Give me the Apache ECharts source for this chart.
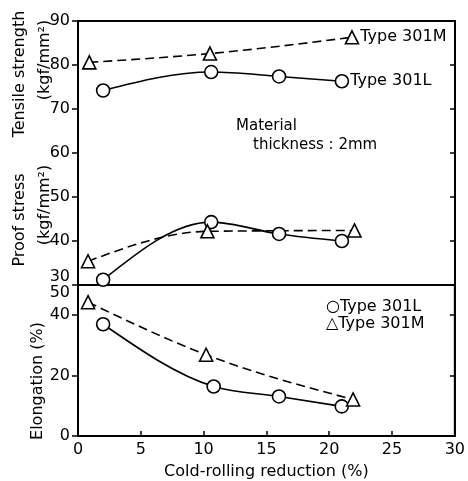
<!DOCTYPE html>
<html><head><meta charset="utf-8">
<script src="https://cdn.jsdelivr.net/npm/echarts@6/dist/echarts.min.js"></script>
<style>html,body{margin:0;padding:0;background:#fff}#c{width:468px;height:481px}</style>
</head><body><div id="c"></div>
<script>
// Data
const xTicks = [0, 5, 10, 15, 20, 25, 30];
const tensileL_x = [2.0, 10.6, 16.0, 21.0];
const tensileL_y = [74.2, 78.4, 77.4, 76.3];
const tensileM_x = [0.9, 10.5, 21.8];
const tensileM_y = [80.6, 82.6, 86.3];
const proofL_x = [2.0, 10.6, 16.0, 21.0];
const proofL_y = [31.2, 44.3, 41.6, 40.0];
const proofM_x = [0.8, 10.3, 22.0];
const proofM_y = [35.4, 42.2, 42.4];
const elongL_x = [2.0, 10.8, 16.0, 21.0];
const elongL_y = [37.0, 16.4, 13.1, 9.8];
const elongM_x = [0.8, 10.2, 21.9];
const elongM_y = [44.3, 26.9, 12.1];
const labelL = 'Type 301L';
const labelM = 'Type 301M';

const FONT = 'DejaVu Sans';
function pairs(xs, ys, lastLabel) {
  return xs.map((x, i) => {
    const item = { value: [x, ys[i]] };
    if (lastLabel && i === xs.length - 1) {
      item.label = { show: true, position: 'right', distance: 1, formatter: lastLabel,
        color: '#000', fontSize: 16, fontFamily: FONT };
    }
    return item;
  });
}
// symbols only (curve drawn by a custom series below)
function marks(name, data, xi, yi, symbol) {
  return {
    name, type: 'line', xAxisIndex: xi, yAxisIndex: yi, data,
    symbol, symbolSize: 13,
    itemStyle: { color: '#fff', borderColor: '#000', borderWidth: 1.6 },
    lineStyle: { opacity: 0 },
    z: 4
  };
}
// monotone cubic curve through the points, positioned by the axes (api.coord)
function curve(xs, ys, xi, yi, dashed) {
  return {
    type: 'custom', xAxisIndex: xi, yAxisIndex: yi, z: 3, silent: true,
    data: [[xs[0], ys[0]]],
    renderItem: function (params, api) {
      const P = xs.map((x, i) => api.coord([x, ys[i]]));
      const n = P.length;
      const s = [], h = [];
      for (let i = 0; i < n - 1; i++) {
        h.push(P[i + 1][0] - P[i][0]);
        s.push((P[i + 1][1] - P[i][1]) / h[i]);
      }
      const t = new Array(n);
      for (let i = 1; i < n - 1; i++) {
        const s0 = s[i - 1], s1 = s[i], h0 = h[i - 1], h1 = h[i];
        const p = (s0 * h1 + s1 * h0) / (h0 + h1);
        t[i] = (Math.sign(s0) + Math.sign(s1)) * Math.min(Math.abs(s0), Math.abs(s1), 0.5 * Math.abs(p)) || 0;
      }
      if (n > 2) {
        t[0] = (3 * s[0] - t[1]) / 2;
        t[n - 1] = (3 * s[n - 2] - t[n - 2]) / 2;
      } else { t[0] = t[1] = s[0]; }
      let d = 'M' + P[0][0] + ' ' + P[0][1];
      for (let i = 0; i < n - 1; i++) {
        const dx = h[i] / 3;
        d += ' C' + (P[i][0] + dx) + ' ' + (P[i][1] + dx * t[i]) + ' ' +
          (P[i + 1][0] - dx) + ' ' + (P[i + 1][1] - dx * t[i + 1]) + ' ' +
          P[i + 1][0] + ' ' + P[i + 1][1];
      }
      return { type: 'path', shape: { pathData: d },
        style: { fill: null, stroke: '#000', lineWidth: 1.6, lineDash: dashed ? [9, 5] : null } };
    }
  };
}
const chart = echarts.init(document.getElementById('c'), null, { renderer: 'canvas' });
const axisLine = { show: true, lineStyle: { color: '#000', width: 2 } };
function vtext(x, y, text) {
  return { type: 'text', x, y, rotation: Math.PI / 2,
    style: { text, fill: '#000', font: '16px ' + FONT, textAlign: 'center', textVerticalAlign: 'middle' } };
}
chart.setOption({
  animation: false,
  backgroundColor: '#fff',
  textStyle: { fontFamily: FONT },
  grid: [
    { left: 78, right: 13, top: 21, height: 264, show: true, borderColor: '#000', borderWidth: 2, backgroundColor: 'transparent' },
    { left: 78, right: 13, top: 285, bottom: 42, show: true, borderColor: '#000', borderWidth: 2, backgroundColor: 'transparent' }
  ],
  xAxis: [
    { type: 'value', gridIndex: 0, min: xTicks[0], max: xTicks[xTicks.length - 1], interval: 5,
      axisLine: { show: false }, axisTick: { show: false }, axisLabel: { show: false }, splitLine: { show: false } },
    { type: 'value', gridIndex: 1, min: xTicks[0], max: xTicks[xTicks.length - 1], interval: 5,
      axisLine, axisTick: { show: true, inside: true, length: 5, lineStyle: { color: '#000', width: 1.5 } },
      axisLabel: { color: '#000', fontSize: 16, fontFamily: FONT, margin: 6 }, splitLine: { show: false },
      name: 'Cold-rolling reduction (%)', nameLocation: 'middle', nameGap: 28,
      nameTextStyle: { color: '#000', fontSize: 16, fontFamily: FONT } }
  ],
  yAxis: [
    { type: 'value', gridIndex: 0, min: 30, max: 90, interval: 10, position: 'left',
      axisLine, axisTick: { show: true, length: 6, lineStyle: { color: '#000', width: 1.5 } },
      axisLabel: { color: '#000', fontSize: 16, fontFamily: FONT, margin: 8, verticalAlignMinLabel: 'bottom' },
      splitLine: { show: false } },
    { type: 'value', gridIndex: 0, min: 30, max: 90, interval: 10, position: 'right',
      axisLine, axisTick: { show: true, inside: true, length: 5, lineStyle: { color: '#000', width: 1.5 } },
      axisLabel: { show: false }, splitLine: { show: false } },
    { type: 'value', gridIndex: 1, min: 0, max: 50, interval: 20, position: 'left',
      axisLine, axisTick: { show: true, length: 6, lineStyle: { color: '#000', width: 1.5 } },
      axisLabel: { color: '#000', fontSize: 16, fontFamily: FONT, margin: 8, showMaxLabel: true, verticalAlignMaxLabel: 'top' },
      splitLine: { show: false } },
    { type: 'value', gridIndex: 1, min: 0, max: 50, interval: 20, position: 'right',
      axisLine, axisTick: { show: true, inside: true, length: 5, lineStyle: { color: '#000', width: 1.5 } },
      axisLabel: { show: false }, splitLine: { show: false } }
  ],
  series: [
    curve(tensileL_x, tensileL_y, 0, 0, false),
    curve(tensileM_x, tensileM_y, 0, 0, true),
    curve(proofL_x, proofL_y, 0, 0, false),
    curve(proofM_x, proofM_y, 0, 0, true),
    curve(elongL_x, elongL_y, 1, 2, false),
    curve(elongM_x, elongM_y, 1, 2, true),
    marks('tensileL', pairs(tensileL_x, tensileL_y, labelL), 0, 0, 'circle'),
    marks('tensileM', pairs(tensileM_x, tensileM_y, labelM), 0, 0, 'triangle'),
    marks('proofL', pairs(proofL_x, proofL_y), 0, 0, 'circle'),
    marks('proofM', pairs(proofM_x, proofM_y), 0, 0, 'triangle'),
    marks('elongL', pairs(elongL_x, elongL_y), 1, 2, 'circle'),
    marks('elongM', pairs(elongM_x, elongM_y), 1, 2, 'triangle')
  ],
  graphic: [
    vtext(20, 74, 'Tensile strength'),
    vtext(45, 60, '(kgf/mm²)'),
    vtext(20, 220, 'Proof stress'),
    vtext(45, 205, '(kgf/mm²)'),
    vtext(38, 381, 'Elongation (%)'),
    { type: 'text', x: 236, y: 126, style: { text: 'Material', fill: '#000', font: '15px ' + FONT, textAlign: 'left', textVerticalAlign: 'middle' } },
    { type: 'text', x: 253, y: 145, style: { text: 'thickness : 2mm', fill: '#000', font: '15px ' + FONT, textAlign: 'left', textVerticalAlign: 'middle' } },
    { type: 'text', x: 326, y: 307, style: { text: '○' + labelL, fill: '#000', font: '16px ' + FONT, textAlign: 'left', textVerticalAlign: 'middle' } },
    { type: 'text', x: 326, y: 324, style: { text: '△' + labelM, fill: '#000', font: '16px ' + FONT, textAlign: 'left', textVerticalAlign: 'middle' } }
  ]
});
</script></body></html>
